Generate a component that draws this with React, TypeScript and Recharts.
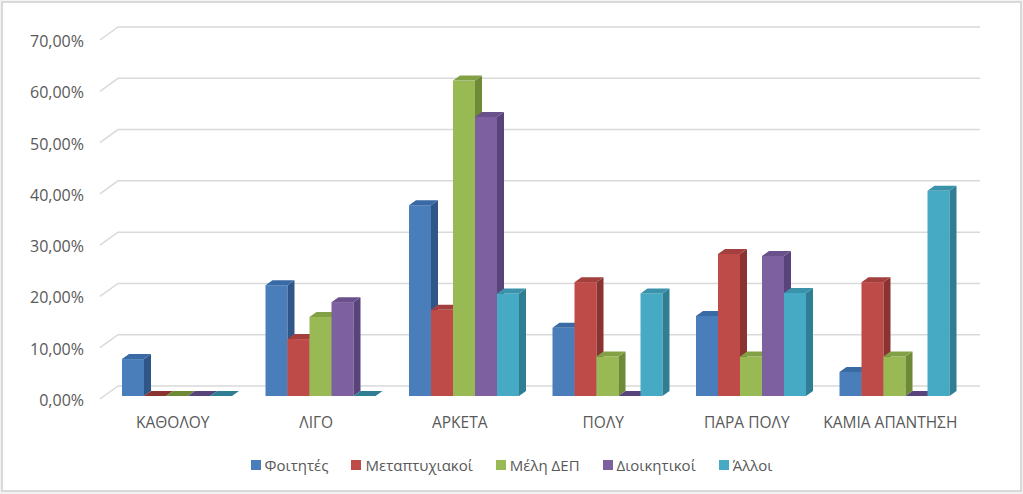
import React from 'react';
import { BarChart, Bar, XAxis, YAxis, CartesianGrid, Legend } from 'recharts';

const categories = ['ΚΑΘΟΛΟΥ', 'ΛΙΓΟ', 'ΑΡΚΕΤΑ', 'ΠΟΛΥ', 'ΠΑΡΑ ΠΟΛΥ', 'ΚΑΜΙΑ ΑΠΑΝΤΗΣΗ'];
const foitites = [7.2, 21.6, 37.2, 13.3, 15.6, 4.7];
const metaptyxiakoi = [0, 11.1, 16.8, 22.2, 27.7, 22.2];
const melhDep = [0, 15.4, 61.5, 7.7, 7.7, 7.7];
const dioikitikoi = [0, 18.3, 54.4, 0, 27.3, 0];
const alloi = [0, 0, 20.0, 20.0, 20.1, 40.0];
const yTicks = [0, 10, 20, 30, 40, 50, 60, 70];

const seriesNames = ['Φοιτητές', 'Μεταπτυχιακοί', 'Μέλη ΔΕΠ', 'Διοικητικοί', 'Άλλοι'];
const seriesKeys = ['s0', 's1', 's2', 's3', 's4'];
const seriesColors = ['#4a7ebb', '#be4b48', '#98b954', '#7d60a0', '#46aac5'];
const sideColors = ['#2f5686', '#8a3331', '#6e8a37', '#58437a', '#2f7e93'];
const topColors = ['#3a6aa3', '#a33f3c', '#82a145', '#6a518c', '#3a93ab'];

const data = categories.map((c, i) => ({
  name: c,
  s0: foitites[i],
  s1: metaptyxiakoi[i],
  s2: melhDep[i],
  s3: dioikitikoi[i],
  s4: alloi[i],
}));

const FONT = '"Open Sans", "Noto Sans", sans-serif';
const TEXT = '#595959';
const DX = 7;
const DY = 5;

const makeShape = (idx: number) => (props: any) => {
  const { x, y, width, height } = props;
  const w = width;
  const h = Math.max(0, height);
  const top = `M${x},${y} L${x + DX},${y - DY} L${x + w + DX},${y - DY} L${x + w},${y} Z`;
  const side = `M${x + w},${y} L${x + w + DX},${y - DY} L${x + w + DX},${y + h - DY} L${x + w},${y + h} Z`;
  return (
    <g>
      {h > 0 && <rect x={x} y={y} width={w} height={h} fill={seriesColors[idx]} />}
      {h > 0 && <path d={side} fill={sideColors[idx]} />}
      <path d={top} fill={h > 0 ? topColors[idx] : sideColors[idx]} />
    </g>
  );
};

const GridLine = (props: any) => {
  const { x1, x2, y1 } = props;
  return (
    <path
      key={props.key}
      d={`M${x1 - 6},${y1 + 3} L${x1 + 12},${y1 - 10} L${x2 + 13},${y1 - 10}`}
      stroke="#d9d9d9"
      strokeWidth={1.5}
      fill="none"
    />
  );
};

const YTick = (props: any) => {
  const { y, payload } = props;
  const label = payload.value.toFixed(2).replace('.', ',') + '%';
  return (
    <text x={84} y={y + 4} textAnchor="end" dominantBaseline="central" fill={TEXT} fontSize={16} fontFamily={FONT}>
      {label}
    </text>
  );
};

const XTick = (props: any) => {
  const { x, payload } = props;
  return (
    <text x={x - 5} y={422} textAnchor="middle" dominantBaseline="central" fill={TEXT} fontSize={15.5} fontFamily={FONT}>
      {payload.value}
    </text>
  );
};

const LegendContent = () => (
  <div style={{ display: 'flex', justifyContent: 'center', fontFamily: FONT, fontSize: 15, color: TEXT }}>
    {seriesNames.map((n, i) => (
      <div key={n} style={{ display: 'flex', alignItems: 'center', marginRight: i < 4 ? 23 : 0 }}>
        <span style={{ width: 10, height: 10, background: seriesColors[i], display: 'inline-block', marginRight: 4 }} />
        <span>{n}</span>
      </div>
    ))}
  </div>
);

export default function App() {
  return (
    <div style={{ position: 'absolute', left: 0, top: 0, width: 1023, height: 494, background: '#f2f2f2' }}>
      <div style={{ position: 'absolute', left: 1, top: 1, width: 1017, height: 487, border: '2px solid #d9d9d9', background: '#ffffff' }} />
      <div style={{ position: 'absolute', left: 0, top: 0 }}>
        <BarChart
          width={1023}
          height={494}
          data={data}
          margin={{ top: 37, right: 56, bottom: 68, left: 46 }}
          barCategoryGap={16}
          barGap={0}
        >
          <CartesianGrid vertical={false} horizontal={GridLine as any} />
          <XAxis dataKey="name" axisLine={false} tickLine={false} height={30} tick={<XTick />} interval={0} />
          <YAxis domain={[0, 70]} ticks={yTicks} width={60} axisLine={false} tickLine={false} tick={<YTick />} />
          <Legend verticalAlign="middle" align="center" layout="horizontal" wrapperStyle={{ top: 455, left: 0, width: 1023 }} content={<LegendContent />} />
          {seriesKeys.map((k, i) => (
            <Bar key={k} dataKey={k} name={seriesNames[i]} fill={seriesColors[i]} isAnimationActive={false} shape={makeShape(i)} />
          ))}
        </BarChart>
      </div>
    </div>
  );
}
